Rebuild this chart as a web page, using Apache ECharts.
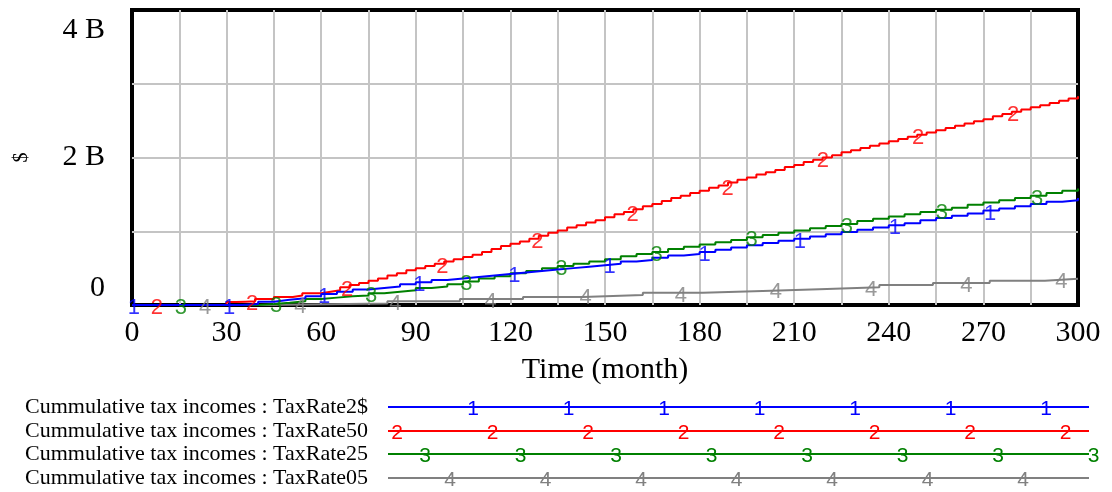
<!DOCTYPE html>
<html>
<head>
<meta charset="utf-8">
<script src="https://cdn.jsdelivr.net/npm/echarts@6/dist/echarts.min.js"></script>
<style>
html, body { margin: 0; padding: 0; background: #fff; }
#chart { width: 1112px; height: 492px; }
</style>
</head>
<body>
<div id="chart"></div>
<script>
// Cumulative tax incomes (billions of $) for four tax-rate runs over 300 months.
const seriesNames = [
  'Cummulative tax incomes : TaxRate2$',
  'Cummulative tax incomes : TaxRate50',
  'Cummulative tax incomes : TaxRate25',
  'Cummulative tax incomes : TaxRate05'
];
const seriesDigits = ['1', '2', '3', '4'];
const seriesColors = ['#0000ff', '#ff0000', '#008000', '#808080'];

// Month grids on which each run is recorded
function monthGrid(step) { const m = []; for (let t = 0; t <= 300; t += step) m.push(t); return m; }
const monthsTaxRate2 = monthGrid(5);
const monthsTaxRate50 = monthGrid(3);
const monthsTaxRate25 = monthGrid(5);
const monthsTaxRate05 = [0, 42, 62, 81, 104, 124, 143, 162, 181, 200, 218, 237, 254, 272, 289.5, 300];

// Values, billions of $
const taxRate2 = [
  0, 0, 0, 0, 0, 0, 0,
  0.015, 0.045, 0.07, 0.09, 0.12, 0.15, 0.18, 0.21, 0.23, 0.25,
  0.28, 0.31, 0.34, 0.36, 0.38, 0.40, 0.42, 0.44, 0.46, 0.48,
  0.50, 0.52, 0.54, 0.56, 0.59, 0.61, 0.64, 0.67, 0.69, 0.72,
  0.75, 0.78, 0.81, 0.84, 0.87, 0.90, 0.93, 0.96, 0.99, 1.02,
  1.05, 1.08, 1.11, 1.15, 1.18, 1.21, 1.24, 1.28, 1.31, 1.34,
  1.37, 1.40, 1.42, 1.45
];
const taxRate50 = [
  0, 0, 0, 0, 0, 0, 0, 0, 0, 0,
  0.04, 0.045, 0.05, 0.08, 0.08, 0.11, 0.11, 0.13, 0.16, 0.16,
  0.18, 0.20, 0.24, 0.27, 0.30, 0.33, 0.36, 0.40, 0.43, 0.47,
  0.50, 0.53, 0.56, 0.59, 0.62, 0.65, 0.68, 0.72, 0.76, 0.80,
  0.83, 0.86, 0.90, 0.94, 0.98, 1.01, 1.05, 1.08, 1.12, 1.15,
  1.19, 1.23, 1.26, 1.30, 1.34, 1.37, 1.41, 1.45, 1.48, 1.52,
  1.55, 1.59, 1.62, 1.66, 1.70, 1.73, 1.77, 1.80, 1.83, 1.87,
  1.90, 1.94, 1.97, 2.00, 2.03, 2.07, 2.10, 2.13, 2.16, 2.19,
  2.22, 2.25, 2.28, 2.31, 2.34, 2.37, 2.40, 2.43, 2.46, 2.49,
  2.52, 2.56, 2.59, 2.62, 2.65, 2.68, 2.71, 2.74, 2.77, 2.80,
  2.83
];
const taxRate25 = [
  0, 0, 0, 0, 0, 0, 0, 0,
  0.014, 0.03, 0.05, 0.08, 0.10, 0.12, 0.13, 0.16, 0.18, 0.20,
  0.23, 0.25, 0.28, 0.32, 0.36, 0.39, 0.43, 0.46, 0.50, 0.53,
  0.56, 0.59, 0.62, 0.66, 0.69, 0.72, 0.76, 0.79, 0.82, 0.85,
  0.88, 0.92, 0.95, 0.98, 1.01, 1.04, 1.07, 1.10, 1.14, 1.17,
  1.20, 1.23, 1.26, 1.29, 1.32, 1.36, 1.39, 1.42, 1.45, 1.48,
  1.52, 1.55, 1.58
];
const taxRate05 = [0, 0.01, 0.02, 0.05, 0.08, 0.11, 0.135, 0.165, 0.19, 0.215, 0.24, 0.27, 0.30, 0.33, 0.355, 0.355];

const runMonths = [monthsTaxRate2, monthsTaxRate50, monthsTaxRate25, monthsTaxRate05];
const runValues = [taxRate2, taxRate50, taxRate25, taxRate05];

// Axis ticks
const xTicks = [0, 30, 60, 90, 120, 150, 180, 210, 240, 270, 300];
const yTickLabels = { 0: '0', 2: '2 B', 4: '4 B' };

const serif = '"Liberation Serif", "Times New Roman", serif';
const sans = '"Liberation Sans", Arial, sans-serif';

// Level held by a stepped run at month t
function levelAt(months, values, t) {
  let v = values[0];
  for (let i = 0; i < months.length; i++) { if (months[i] <= t) v = values[i]; else break; }
  return v;
}

// Run identifiers sit along each line every ~30 months, staggered per run
const markerStart = [0.6, 7.9, 15.5, 23.2];
const markerSpacing = 30.17;

const series = [];
runValues.forEach((vals, i) => {
  const months = runMonths[i];
  series.push({
    type: 'line',
    name: seriesNames[i],
    data: vals.map((v, k) => [months[k], v]),
    step: 'end',
    symbol: 'none',
    showSymbol: false,
    lineStyle: { color: seriesColors[i], width: 2 },
    itemStyle: { color: seriesColors[i] },
    z: 6 - i,
    silent: true
  });
  const pts = [];
  for (let t = markerStart[i]; t <= 300; t += markerSpacing) pts.push([t, levelAt(months, vals, t)]);
  series.push({
    type: 'scatter',
    data: pts,
    symbolSize: 1,
    itemStyle: { color: 'transparent' },
    label: {
      show: true, position: 'inside', formatter: seriesDigits[i],
      color: seriesColors[i], fontSize: 22, fontFamily: sans, offset: [0, 3]
    },
    z: 7,
    silent: true
  });
});

// Key below the plot: run names, each with its coloured line and repeated identifier
const keyRowY = [407, 431, 454, 478];
const keyLineX = [388, 1089];
const keyDigitStart = [473, 397, 425, 450];
const keyDigitSpacing = 95.5;
const graphics = [];
seriesNames.forEach((name, i) => {
  graphics.push({
    type: 'text', silent: true,
    style: { text: name, x: 25, y: keyRowY[i], fill: '#000', font: '22px ' + serif,
             textAlign: 'left', textVerticalAlign: 'middle', align: 'left', verticalAlign: 'middle' }
  });
  graphics.push({
    type: 'line', silent: true,
    shape: { x1: keyLineX[0], y1: keyRowY[i], x2: keyLineX[1], y2: keyRowY[i] },
    style: { stroke: seriesColors[i], lineWidth: 2 }
  });
  for (let x = keyDigitStart[i]; x <= 1095; x += keyDigitSpacing) {
    graphics.push({
      type: 'text', silent: true,
      style: { text: seriesDigits[i], x: x, y: keyRowY[i] + 2, fill: seriesColors[i], font: '21px ' + sans,
               textAlign: 'center', textVerticalAlign: 'middle', align: 'center', verticalAlign: 'middle' }
    });
  }
});

const chart = echarts.init(document.getElementById('chart'), null, { renderer: 'canvas' });
chart.setOption({
  animation: false,
  backgroundColor: '#fff',
  grid: { left: 132, right: 34, top: 10, bottom: 187, show: true, borderColor: '#000', borderWidth: 4, backgroundColor: '#fff' },
  xAxis: {
    type: 'value', min: 0, max: 300, interval: 15,
    axisLine: { show: false }, axisTick: { show: false },
    splitLine: { show: true, showMinLine: false, showMaxLine: false, lineStyle: { color: '#c4c4c4', width: 2 } },
    axisLabel: {
      formatter: v => (xTicks.indexOf(v) >= 0 ? String(v) : ''),
      margin: 13, color: '#000', fontFamily: serif, fontSize: 30
    },
    name: 'Time (month)', nameLocation: 'middle', nameGap: 50,
    nameTextStyle: { color: '#000', fontFamily: serif, fontSize: 30 }
  },
  yAxis: {
    type: 'value', min: 0, max: 4, interval: 1,
    axisLine: { show: false }, axisTick: { show: false },
    splitLine: { show: true, showMinLine: false, showMaxLine: false, lineStyle: { color: '#c4c4c4', width: 2 } },
    axisLabel: {
      formatter: v => (v === 4 ? '{t|' + yTickLabels[4] + '}' : v === 0 ? '{b|' + yTickLabels[0] + '}' : yTickLabels[v] !== undefined ? '{m|' + yTickLabels[v] + '}' : ''),
      margin: 27, color: '#000', fontFamily: serif, fontSize: 30,
      rich: {
        t: { fontFamily: serif, fontSize: 30, color: '#000', padding: [40, 0, 0, 0] },
        m: { fontFamily: serif, fontSize: 30, color: '#000' },
        b: { fontFamily: serif, fontSize: 30, color: '#000', padding: [0, 0, 34, 0] }
      }
    },
    name: '$', nameLocation: 'middle', nameRotate: 90, nameGap: 100,
    nameTextStyle: { color: '#000', fontFamily: serif, fontSize: 20 }
  },
  graphic: graphics,
  series: series
});
</script>
</body>
</html>
